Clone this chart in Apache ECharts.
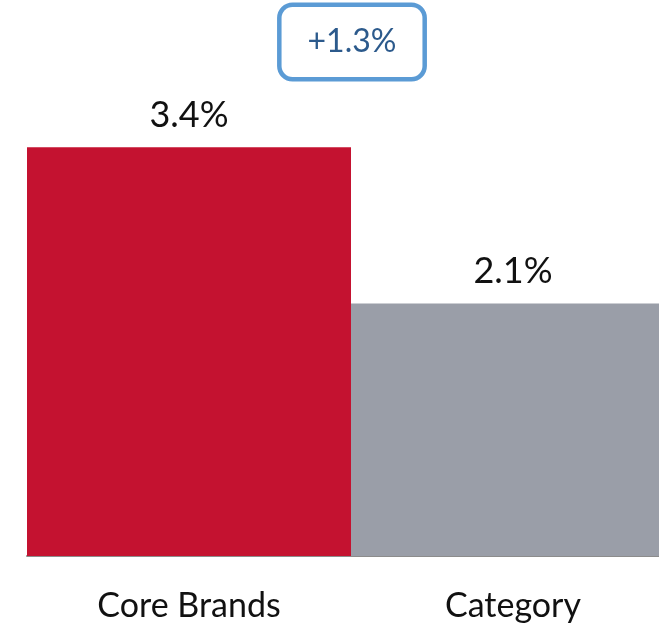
<!DOCTYPE html>
<html>
<head>
<meta charset="utf-8">
<script src="https://cdn.jsdelivr.net/npm/echarts@6/dist/echarts.min.js"></script>
<style>
html,body{margin:0;padding:0;background:#fff;}
#chart{width:659px;height:627px;}
</style>
</head>
<body>
<div id="chart"></div>
<script>
const categories = ["Core Brands", "Category"];
const values = [3.4, 2.1];
const barColors = ["#C41230", "#9A9EA8"];
const diffLabel = "+1.3%";

const chart = echarts.init(document.getElementById('chart'), null, {renderer: 'canvas'});
const FONT = 'Lato, "Open Sans", sans-serif';

chart.setOption({
  animation: false,
  backgroundColor: '#ffffff',
  grid: {left: 27, width: 648, top: 75, bottom: 71, containLabel: false, outerBoundsMode: 'none'},
  xAxis: {
    type: 'category',
    data: categories,
    axisLine: {show: true, lineStyle: {color: '#8C8C8C', width: 2}},
    axisTick: {show: false},
    axisLabel: {color: '#111', fontSize: 34, fontFamily: FONT, margin: 33}
  },
  yAxis: {
    type: 'value',
    min: 0,
    max: 4,
    show: false,
    splitLine: {show: false}
  },
  series: [{
    type: 'bar',
    barCategoryGap: 0,
    barWidth: '100%',
    data: values.map((v, i) => ({value: v, itemStyle: {color: barColors[i]}})),
    label: {
      show: true,
      position: 'top',
      distance: 14,
      color: '#111',
      fontSize: 36,
      fontFamily: FONT,
      formatter: p => p.value.toFixed(1) + '%'
    }
  }],
  graphic: [{
    type: 'text',
    x: 352,
    y: 42,
    style: {
      text: diffLabel,
      fill: '#2C5A8C',
      font: '32px ' + FONT,
      align: 'center',
      verticalAlign: 'middle',
      backgroundColor: '#fff',
      borderColor: '#5B9BD5',
      borderWidth: 4.5,
      borderRadius: 11,
      padding: [19, 26, 19, 26]
    }
  }]
});
</script>
</body>
</html>
